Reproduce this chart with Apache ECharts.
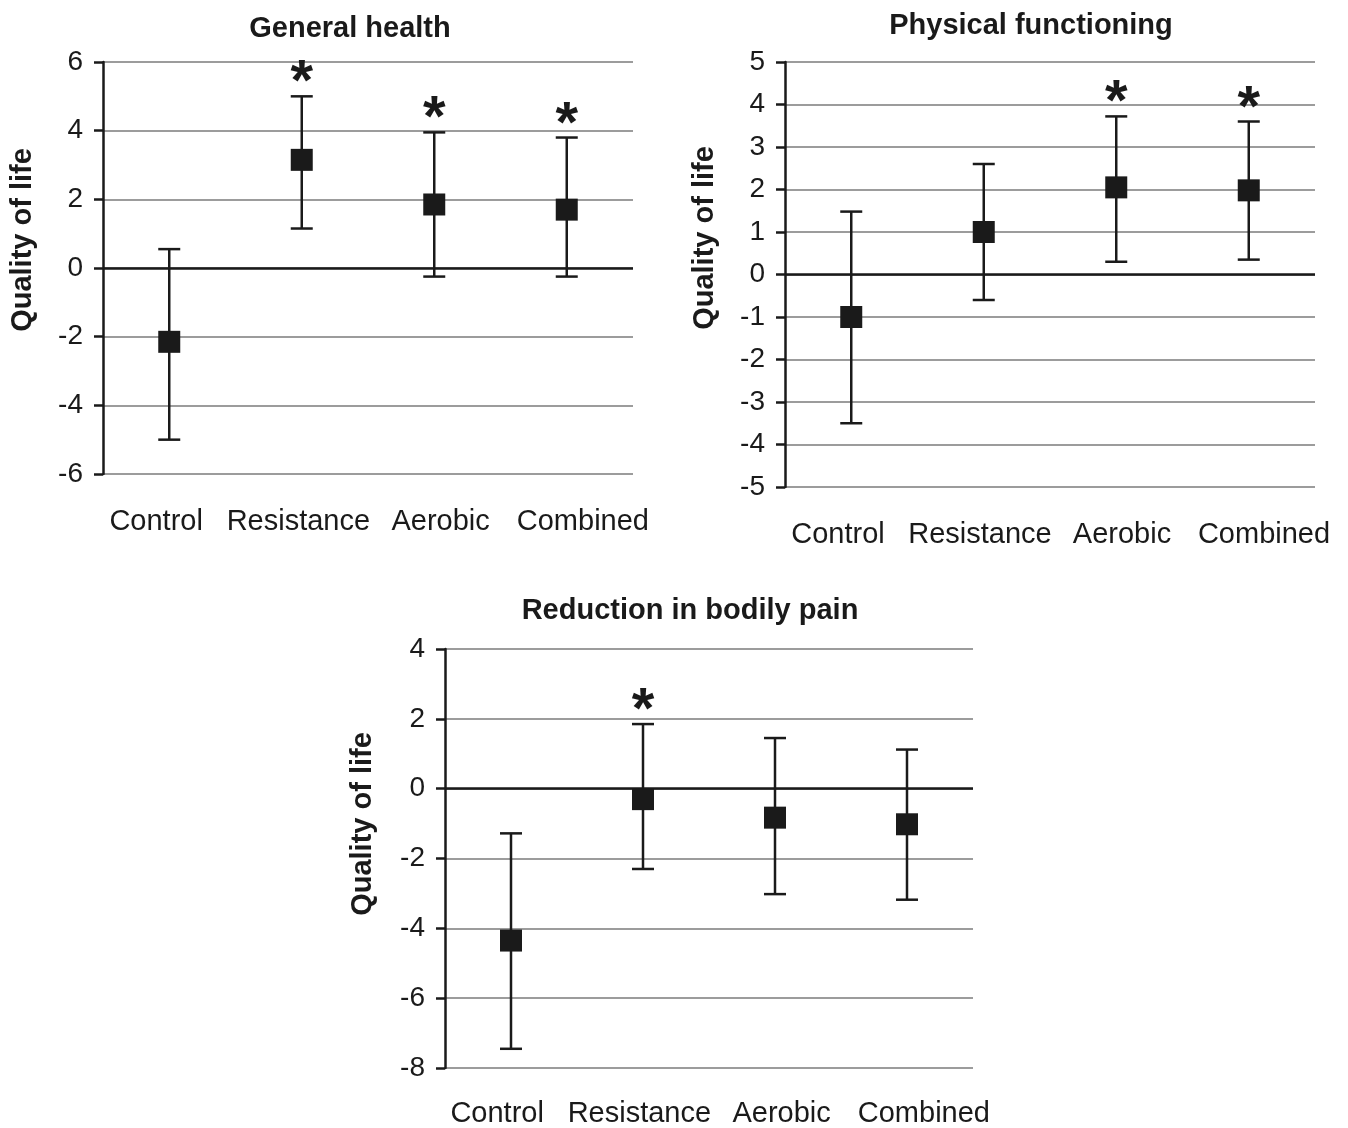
<!DOCTYPE html>
<html>
<head>
<meta charset="utf-8">
<script src="https://cdn.jsdelivr.net/npm/echarts@6/dist/echarts.min.js"></script>
<style>
html,body{margin:0;padding:0;background:#fff;}
#chart{width:1348px;height:1128px;}
</style>
</head>
<body>
<div id="chart"></div>
<script>
// ---- data ----
const categories = ['Control', 'Resistance', 'Aerobic', 'Combined'];

const ghMean = [-2.15, 3.15, 1.85, 1.7];
const ghLow  = [-5.0, 1.15, -0.25, -0.25];
const ghHigh = [0.55, 5.0, 3.95, 3.8];
const ghSig  = [0, 1, 1, 1];

const pfMean = [-1.0, 1.0, 2.05, 1.98];
const pfLow  = [-3.5, -0.6, 0.3, 0.35];
const pfHigh = [1.48, 2.6, 3.72, 3.6];
const pfSig  = [0, 0, 1, 1];

const bpMean = [-4.35, -0.3, -0.83, -1.02];
const bpLow  = [-7.45, -2.3, -3.02, -3.18];
const bpHigh = [-1.28, 1.85, 1.45, 1.12];
const bpSig  = [0, 1, 0, 0];

const titles = ['General health', 'Physical functioning', 'Reduction in bodily pain'];
const yName = 'Quality of life';
// ---- end data ----

const FONT = '"Liberation Sans", Arial, Helvetica, sans-serif';
const INK = '#1a1a1a';

const panels = [
  {title: titles[0], mean: ghMean, low: ghLow, high: ghHigh, sig: ghSig, min: -6, max: 6, interval: 2,
   grid: {left: 103, top: 62, width: 530, height: 412}, labelGrid: {left: 85, width: 569},
   titleX: 345, titleY: 9, nameX: 23, nameY: 240},
  {title: titles[1], mean: pfMean, low: pfLow, high: pfHigh, sig: pfSig, min: -5, max: 5, interval: 1,
   grid: {left: 785, top: 62, width: 530, height: 425}, labelGrid: {left: 767, width: 568},
   titleX: 1026, titleY: 6, nameX: 705, nameY: 238},
  {title: titles[2], mean: bpMean, low: bpLow, high: bpHigh, sig: bpSig, min: -8, max: 4, interval: 2,
   grid: {left: 445, top: 649, width: 528, height: 419}, labelGrid: {left: 426, width: 569},
   titleX: 685, titleY: 591, nameX: 363, nameY: 824}
];

function renderErr(params, api) {
  const i = api.value(0);
  const lo = api.coord([i, api.value(1)]);
  const hi = api.coord([i, api.value(2)]);
  const half = 11;
  const style = {stroke: INK, lineWidth: 2.5};
  const children = [
    {type: 'line', shape: {x1: lo[0], y1: lo[1], x2: hi[0], y2: hi[1]}, style: style},
    {type: 'line', shape: {x1: lo[0] - half, y1: lo[1], x2: lo[0] + half, y2: lo[1]}, style: style},
    {type: 'line', shape: {x1: hi[0] - half, y1: hi[1], x2: hi[0] + half, y2: hi[1]}, style: style}
  ];
  if (api.value(3)) {
    children.push({type: 'text', x: hi[0], y: hi[1] - 12,
      style: {text: '*', font: 'bold 58px ' + FONT, fill: INK, align: 'center', verticalAlign: 'middle'}});
  }
  return {type: 'group', children: children};
}

const option = {
  backgroundColor: '#fff',
  animation: false,
  title: [], grid: [], xAxis: [], yAxis: [], series: [], graphic: []
};

panels.forEach(function (p, k) {
  const g = 2 * k, lg = 2 * k + 1;
  option.title.push({
    text: p.title, left: p.titleX, top: p.titleY, textAlign: 'center',
    textStyle: {fontFamily: FONT, fontWeight: 'bold', fontSize: 29, color: INK}
  });
  option.grid.push(Object.assign({containLabel: false}, p.grid));
  option.grid.push({left: p.labelGrid.left, width: p.labelGrid.width, top: p.grid.top, height: p.grid.height});

  option.xAxis.push({
    type: 'category', gridIndex: g, data: categories, boundaryGap: true,
    axisLine: {show: false}, axisTick: {show: false}, axisLabel: {show: false}, splitLine: {show: false}
  });
  option.xAxis.push({
    type: 'category', gridIndex: lg, data: categories, boundaryGap: true,
    axisLine: {show: false}, axisTick: {show: false}, splitLine: {show: false},
    axisLabel: {interval: 0, fontFamily: FONT, fontSize: 29, color: INK, margin: 33}
  });
  option.yAxis.push({
    type: 'value', gridIndex: g, min: p.min, max: p.max, interval: p.interval,
    axisLine: {show: true, lineStyle: {color: INK, width: 2.5}},
    axisTick: {show: true, length: 9, lineStyle: {color: INK, width: 2.5}},
    axisLabel: {fontFamily: FONT, fontSize: 28, color: INK, margin: 20},
    splitLine: {show: true, lineStyle: {color: '#9c9c9c', width: 2}}
  });
  option.yAxis.push({
    type: 'value', gridIndex: lg, min: p.min, max: p.max, show: false
  });

  option.series.push({
    type: 'custom', xAxisIndex: g, yAxisIndex: g, renderItem: renderErr,
    encode: {x: 0, y: [1, 2]},
    data: categories.map(function (c, i) { return [i, p.low[i], p.high[i], p.sig[i]]; }),
    z: 3, silent: true
  });
  option.series.push({
    type: 'scatter', xAxisIndex: g, yAxisIndex: g, symbol: 'rect', symbolSize: 22,
    itemStyle: {color: INK, opacity: 1},
    data: categories.map(function (c, i) { return [i, p.mean[i]]; }),
    z: 4, silent: true,
    markLine: {
      silent: true, symbol: ['none', 'none'], label: {show: false},
      lineStyle: {color: INK, width: 2.5, type: 'solid'},
      data: [{yAxis: 0}], z: 2
    }
  });

  option.graphic.push({
    type: 'text', x: p.nameX, y: p.nameY, rotation: Math.PI / 2,
    style: {text: yName, font: 'bold 29px ' + FONT, fill: INK, align: 'center', verticalAlign: 'middle'}
  });
});

const chart = echarts.init(document.getElementById('chart'), null, {renderer: 'canvas'});
chart.setOption(option);
</script>
</body>
</html>
